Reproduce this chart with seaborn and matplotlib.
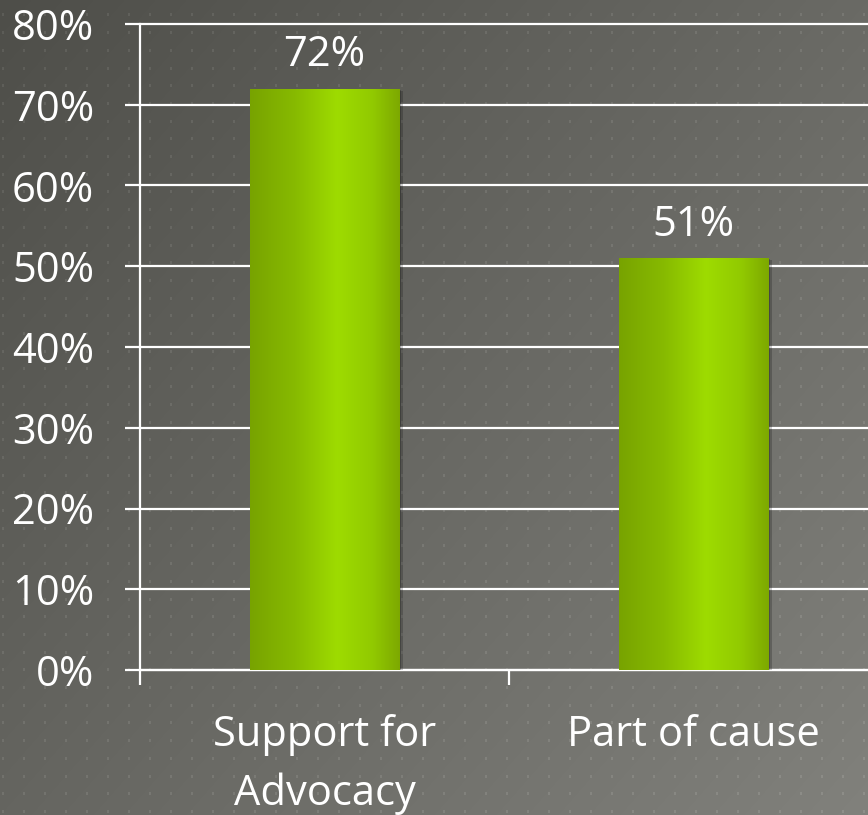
import numpy as np
import pandas as pd
import matplotlib
matplotlib.use("Agg")
import matplotlib.pyplot as plt
import matplotlib.patheffects as pe
from matplotlib.colors import LinearSegmentedColormap
import seaborn as sns

# ---- data ----
categories = ["Support for\nAdvocacy", "Part of cause"]
values = [72, 51]
value_labels = ["72%", "51%"]
ytick_values = [0, 10, 20, 30, 40, 50, 60, 70, 80]
ytick_labels = ["0%", "10%", "20%", "30%", "40%", "50%", "60%", "70%", "80%"]

sns.set_theme(style="white")
plt.rcParams['font.family'] = ['Open Sans', 'DejaVu Sans']

W, H = 868, 815
fig = plt.figure(figsize=(W / 100, H / 100), dpi=100)

# ---- background: diagonal gray gradient with dot pattern ----
yy, xx = np.mgrid[0:H, 0:W]
u = xx / W
v = yy / H
base = 78 + 28 * u + 23 * v
img = np.zeros((H, W, 3))
img[..., 0] = base
img[..., 1] = base
img[..., 2] = base - 5
dots = (((xx - 2) % 21) < 2) & ((np.floor((yy - 13) % 17.7)) < 3)
img[dots] += 14
img = np.clip(img / 255.0, 0, 1)
bg = fig.add_axes([0, 0, 1, 1], zorder=-10)
bg.imshow(img, extent=(0, 1, 0, 1), aspect="auto", origin="upper")
bg.set_axis_off()

# ---- main axes ----
ax = fig.add_axes([140 / W, 145 / H, 738 / W, 646 / H])
ax.set_facecolor("none")
df = pd.DataFrame({"category": categories, "value": values})
sns.barplot(data=df, x="category", y="value", width=0.405, color="#8cc400",
            ax=ax, zorder=3, saturation=1)

ax.set_xlim(-0.5, 1.5)
ax.set_ylim(0, 80)
ax.set_xlabel("")
ax.set_ylabel("")

# gradient fill for the bars
green = LinearSegmentedColormap.from_list(
    "g", [(0.0, (0.47, 0.64, 0.0)), (0.3, (0.53, 0.73, 0.0)),
          (0.58, (0.62, 0.86, 0.0)), (0.82, (0.57, 0.79, 0.0)),
          (1.0, (0.49, 0.66, 0.0))])
grad = np.linspace(0, 1, 256).reshape(1, -1)
for p in ax.patches:
    x0, y0 = p.get_x(), p.get_y()
    w, h = p.get_width(), p.get_height()
    p.set_edgecolor("none")
    p.set_path_effects([pe.SimplePatchShadow(offset=(3, -1.5), shadow_rgbFace="black", alpha=0.2),
                        pe.SimplePatchShadow(offset=(1.5, -0.8), shadow_rgbFace="black", alpha=0.2),
                        pe.Normal()])
    im = ax.imshow(grad, cmap=green, extent=(x0, x0 + w, y0, y0 + h),
                   aspect="auto", zorder=4, interpolation="bilinear")
    im.set_clip_path(p)
ax.set_xlim(-0.5, 1.5)
ax.set_ylim(0, 80)

# value labels
ax.bar_label(ax.containers[0], labels=value_labels, padding=9,
             color="white", fontsize=30, zorder=6)

# grid & spines
ax.set_yticks(ytick_values)
ax.set_yticklabels(ytick_labels)
ax.yaxis.grid(True, color="white", linewidth=1.6, zorder=1)
for gl in ax.get_ygridlines():
    gl.set_clip_on(False)
for s in ["top", "right"]:
    ax.spines[s].set_visible(False)
for s in ["left", "bottom"]:
    ax.spines[s].set_color("white")
    ax.spines[s].set_linewidth(1.6)
    ax.spines[s].set_zorder(2)

ax.tick_params(axis="y", which="major", direction="out", length=11, width=1.6,
               color="white", labelcolor="white", labelsize=30, pad=22, left=True)
ax.set_xticks([-0.5, 0.5, 1.5], minor=True)
ax.tick_params(axis="x", which="minor", direction="out", length=11, width=1.6,
               color="white", bottom=True)
ax.tick_params(axis="x", which="major", length=0, labelcolor="white",
               labelsize=30, pad=32)
for t in ax.get_xticklabels():
    t.set_linespacing(1.5)

fig.savefig("out.png", dpi=100)
